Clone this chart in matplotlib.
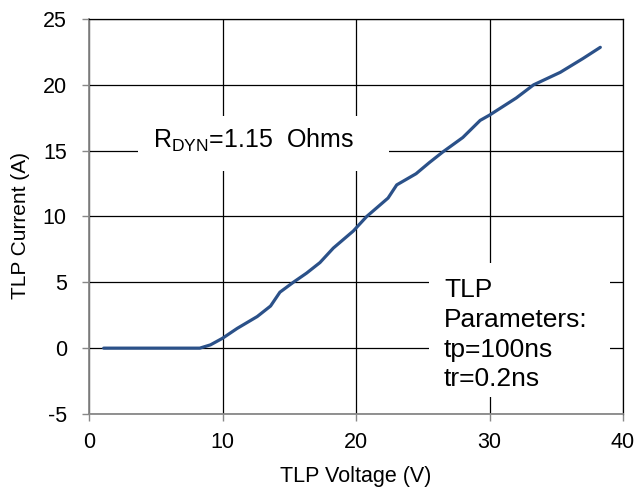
import matplotlib
matplotlib.use("Agg")
import matplotlib.pyplot as plt
from matplotlib.patches import Rectangle

plt.rcParams['font.family'] = ['Liberation Sans', 'DejaVu Sans']
plt.rcParams['mathtext.fontset'] = 'custom'
plt.rcParams['mathtext.rm'] = 'Liberation Sans'
plt.rcParams['axes.unicode_minus'] = False

# TLP I-V curve
voltage = [1.1, 2, 3, 4, 5, 6, 7, 8.3, 9.1, 10.0, 11.1, 12.6, 13.6, 14.3, 15.3,
           16.3, 17.3, 18.3, 19.8, 20.8, 22.4, 23.05, 24.5, 25.5, 26.5, 28.0,
           29.3, 30.0, 32.0, 33.3, 35.3, 37.0, 38.3]
current = [0, 0, 0, 0, 0, 0, 0, 0, 0.25, 0.75, 1.5, 2.4, 3.2, 4.25, 5.0,
           5.7, 6.5, 7.6, 8.9, 10.0, 11.4, 12.4, 13.25, 14.1, 14.9, 16.0,
           17.3, 17.7, 19.0, 20.0, 20.95, 22.0, 22.85]

x_ticks = [0, 10, 20, 30, 40]
y_ticks = [-5, 0, 5, 10, 15, 20, 25]

rdyn_label = r'R$_{\mathrm{DYN}}$=1.15  Ohms'
param_label = "TLP\nParameters:\ntp=100ns\ntr=0.2ns"

fig = plt.figure(figsize=(6.38, 4.94), dpi=100)
ax = fig.add_axes([0.1395, 0.162, 0.837, 0.7995])

ax.plot(voltage, current, color='#2B5189', lw=2.3, zorder=4,
        solid_capstyle='round')

ax.set_xlim(0, 40)
ax.set_ylim(-5, 25)
ax.set_xticks(x_ticks)
ax.set_yticks(y_ticks)
ax.grid(True, color='black', lw=0.9)

for side in ['left', 'bottom']:
    ax.spines[side].set_color('#888888')
    ax.spines[side].set_linewidth(1.3)
for side in ['top', 'right']:
    ax.spines[side].set_color('black')
    ax.spines[side].set_linewidth(0.9)

ax.tick_params(axis='both', direction='out', length=5, width=1,
               color='#888888', labelsize=15.5)
ax.tick_params(axis='y', pad=11)
ax.tick_params(axis='x', pad=8)

ax.set_xlabel("TLP Voltage (V)", fontsize=15.5)
ax.set_ylabel("TLP Current (A)", fontsize=15)
ax.xaxis.set_label_coords(0.5, -0.132)
ax.yaxis.set_label_coords(-0.110, 0.476)

# white label boxes that cut through the grid
ax.add_patch(Rectangle((3.67, 13.46), 18.8, 4.14, facecolor='white',
                       edgecolor='none', zorder=3))
ax.add_patch(Rectangle((25.5, -3.73), 13.5, 10.2, facecolor='white',
                       edgecolor='none', zorder=3))

ax.text(4.8, 15.19, rdyn_label, fontsize=18, va='baseline', ha='left',
        zorder=5)
ax.text(26.6, 5.3, param_label, fontsize=19, va='top', ha='left',
        linespacing=1.3, zorder=5)

fig.savefig("out.png", dpi=100)
